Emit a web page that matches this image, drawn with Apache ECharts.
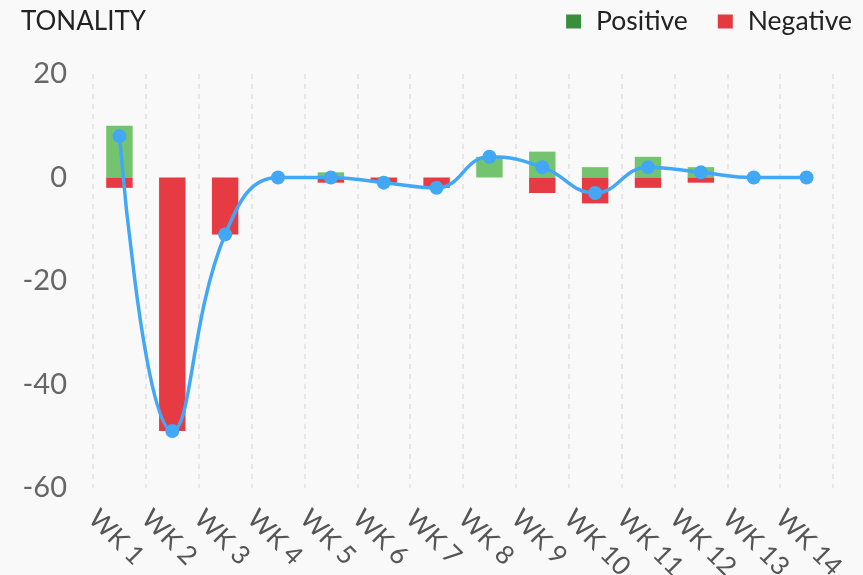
<!DOCTYPE html>
<html>
<head>
<meta charset="utf-8">
<script src="https://cdn.jsdelivr.net/npm/echarts@6/dist/echarts.min.js"></script>
<style>
  html, body { margin: 0; padding: 0; background: #f9f9f9; }
  #chart { width: 863px; height: 575px; }
</style>
</head>
<body>
<div id="chart"></div>
<script>
// weekly tonality data
var weeks = ['WK 1', 'WK 2', 'WK 3', 'WK 4', 'WK 5', 'WK 6', 'WK 7', 'WK 8', 'WK 9', 'WK 10', 'WK 11', 'WK 12', 'WK 13', 'WK 14']
var positive = [10, 0, 0, 0, 1, 0, 0, 4, 5, 2, 4, 2, 0, 0]
var negative = [-2, -49, -11, 0, -1, -1, -2, 0, -3, -5, -2, -1, 0, 0]
var tonality = [8, -49, -11, 0, 0, -1, -2, 4, 2, -3, 2, 1, 0, 0]
var yTicks = [-60, -40, -20, 0, 20]

var chart = echarts.init(document.getElementById('chart'))
var font = 'Lato'

chart.setOption({
  backgroundColor: '#f9f9f9',
  animation: false,
  title: {
    text: 'TONALITY',
    left: 16,
    top: 4,
    textStyle: { fontFamily: font, fontSize: 26, fontWeight: 'normal', color: '#222' }
  },
  legend: {
    right: 6,
    top: 3,
    itemWidth: 15,
    itemHeight: 14,
    itemGap: 30,
    textStyle: { fontFamily: font, fontSize: 26.5, color: '#222', padding: [0, 0, 0, 10] },
    data: [
      { name: 'Positive', icon: 'rect', itemStyle: { color: '#388e3c' } },
      { name: 'Negative', icon: 'rect', itemStyle: { color: '#e53940' } }
    ]
  },
  grid: { left: 93, right: 30, top: 74, bottom: 87, outerBoundsMode: 'none' },
  xAxis: [
    {
      // data axis, hidden
      type: 'category',
      data: weeks,
      show: false,
      boundaryGap: true
    },
    {
      // label axis, labels sit on the band boundaries
      type: 'value',
      min: 0,
      max: weeks.length,
      interval: 1,
      position: 'bottom',
      axisLine: { show: false },
      axisTick: { show: false },
      splitLine: { show: true, lineStyle: { color: '#e0e0e0', width: 1.5, type: [5, 5] } },
      axisLabel: {
        showMinLabel: true,
        showMaxLabel: true,
        rotate: -45,
        margin: 26,
        fontFamily: font,
        fontSize: 26,
        color: '#555',
        formatter: function (v) { return v < weeks.length ? weeks[v] : '' }
      }
    }
  ],
  yAxis: {
    type: 'value',
    min: yTicks[0],
    max: yTicks[yTicks.length - 1],
    interval: 20,
    axisLine: { show: false },
    axisTick: { show: false },
    splitLine: { show: false },
    axisLabel: { margin: 26, fontFamily: font, fontSize: 29, color: '#666' }
  },
  series: [
    {
      name: 'Positive',
      type: 'bar',
      stack: 'tone',
      xAxisIndex: 0,
      barWidth: '50%',
      itemStyle: { color: '#74c46f' },
      data: positive
    },
    {
      name: 'Negative',
      type: 'bar',
      stack: 'tone',
      xAxisIndex: 0,
      barWidth: '50%',
      itemStyle: { color: '#e63b43' },
      data: negative
    },
    {
      name: 'Tonality',
      type: 'line',
      xAxisIndex: 0,
      smooth: 0.45,
      symbol: 'circle',
      symbolSize: 14,
      lineStyle: { width: 3.5, color: '#42a8f6' },
      itemStyle: { color: '#42a8f6' },
      z: 5,
      data: tonality
    }
  ]
})
</script>
</body>
</html>
